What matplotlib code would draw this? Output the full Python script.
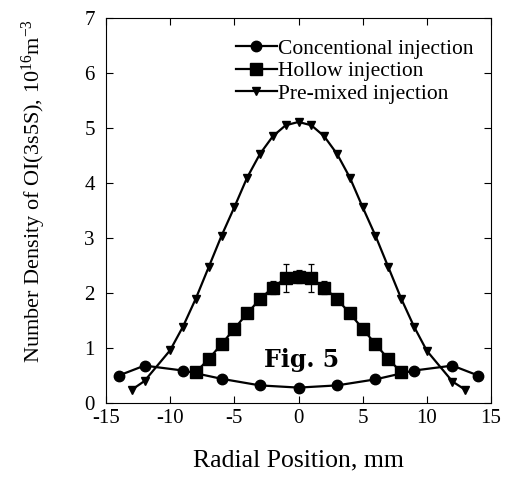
import matplotlib
matplotlib.use("Agg")
import matplotlib.pyplot as plt

plt.rcParams['font.family'] = ['Liberation Serif', 'DejaVu Serif']
plt.rcParams['mathtext.fontset'] = 'custom'
plt.rcParams['mathtext.rm'] = 'Liberation Serif'
plt.rcParams['mathtext.it'] = 'Liberation Serif:italic'
plt.rcParams['axes.unicode_minus'] = False

# Data
conv_x = [-14, -12, -9, -6, -3, 0, 3, 6, 9, 12, 14]
conv_y = [0.50, 0.68, 0.59, 0.44, 0.32, 0.28, 0.32, 0.43, 0.59, 0.68, 0.50]

hollow_x = [-8, -7, -6, -5, -4, -3, -2, -1, 0, 1, 2, 3, 4, 5, 6, 7, 8]
hollow_y = [0.56, 0.80, 1.07, 1.35, 1.63, 1.89, 2.10, 2.27, 2.30, 2.27, 2.10,
            1.89, 1.63, 1.35, 1.07, 0.80, 0.56]
hollow_err = [0, 0, 0, 0, 0, 0, 0.12, 0.25, 0.11, 0.25, 0.12, 0, 0, 0, 0, 0, 0]

pre_x = [-13, -12, -10, -9, -8, -7, -6, -5, -4, -3, -2, -1, 0,
         1, 2, 3, 4, 5, 6, 7, 8, 9, 10, 12, 13]
pre_y = [0.24, 0.40, 0.96, 1.39, 1.90, 2.47, 3.04, 3.56, 4.10, 4.53, 4.85, 5.05, 5.11,
         5.05, 4.85, 4.53, 4.10, 3.56, 3.04, 2.47, 1.90, 1.39, 0.95, 0.39, 0.24]

labels = ["Concentional injection", "Hollow injection", "Pre-mixed injection"]
xticks = [-15, -10, -5, 0, 5, 10, 15]
yticks = [0, 1, 2, 3, 4, 5, 6, 7]

fig = plt.figure(figsize=(5.08, 4.78), dpi=100)
ax = fig.add_axes([0.2087, 0.1569, 0.7578, 0.8054])

h1, = ax.plot(conv_x, conv_y, '-o', color='black', lw=1.6, ms=7.5, zorder=3)
ax.errorbar(hollow_x, hollow_y, yerr=hollow_err, fmt='none', ecolor='black',
            elinewidth=0.9, capsize=2.5, capthick=0.9, zorder=2)
h2, = ax.plot(hollow_x, hollow_y, '-s', color='black', lw=1.6, ms=8, zorder=3)
h3, = ax.plot(pre_x, pre_y, '-v', color='black', lw=1.6, ms=6, zorder=3)

ax.set_xlim(-15, 15)
ax.set_ylim(0, 7)
ax.set_xticks(xticks)
ax.set_yticks(yticks)
ax.tick_params(direction='in', top=True, right=True, length=5, width=0.8,
               labelsize=15, pad=4)
ax.tick_params(axis='y', pad=8)
for s in ax.spines.values():
    s.set_linewidth(0.8)

ax.set_xlabel("Radial Position, mm", fontsize=18.5, labelpad=16)
ax.set_ylabel("Number Density of OI(3s5S), 10$^{16}$m$^{-3}$", fontsize=16)
ax.yaxis.set_label_coords(-0.152, 0.55)

ax.text(0.2, 0.78, "Fig. 5", fontsize=17, fontweight='bold', family='DejaVu Serif',
        ha='center', va='center')

ax.legend([h1, h2, h3], labels, loc='upper right', bbox_to_anchor=(0.988, 0.98),
          frameon=False, fontsize=15.5, handlelength=1.9, handletextpad=0.05,
          labelspacing=0.12, borderaxespad=0.2)

fig.savefig("out.png", dpi=100)
